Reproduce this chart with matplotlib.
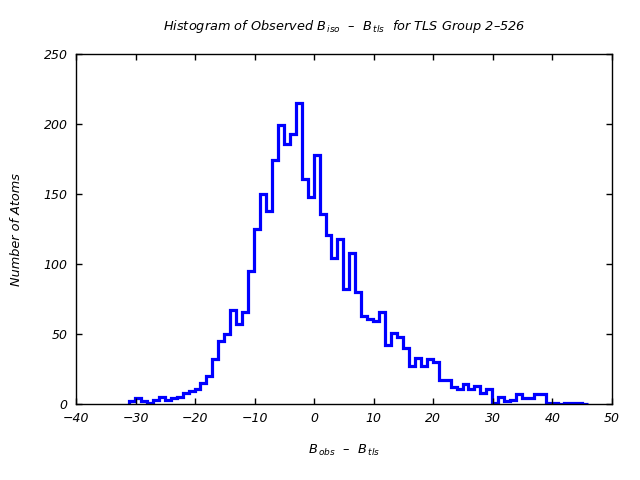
import numpy as np
import matplotlib
matplotlib.use("Agg")
import matplotlib.pyplot as plt

# Histogram counts per bin
counts = [2, 4, 2, 1, 3, 5, 3, 4, 5, 8, 9, 11, 15, 20, 32, 45, 50,
          67, 57, 66, 95, 125, 150, 138, 174, 199, 186, 193, 215, 161, 148, 178, 136, 121,
          104, 118, 82, 108, 80, 63, 61, 59, 66, 42, 51, 48, 40, 27, 33, 27,
          32, 30, 17, 17, 12, 11, 14, 11, 13, 8, 11, 1, 5, 2, 3, 7, 4, 4, 7, 7,
          1, 1, 0, 1, 1, 1, 0]
bin_start = -31.1
bin_width = 1.0
edges = bin_start + bin_width * np.arange(len(counts) + 1)

x_ticks = [-40, -30, -20, -10, 0, 10, 20, 30, 40, 50]
y_ticks = [0, 50, 100, 150, 200, 250]

plt.rcParams['font.family'] = ['DejaVu Sans']
plt.rcParams['font.style'] = 'italic'
plt.rcParams['mathtext.fontset'] = 'custom'
plt.rcParams['mathtext.it'] = 'DejaVu Sans:italic'
plt.rcParams['mathtext.rm'] = 'DejaVu Sans:italic'

fig = plt.figure(figsize=(6.4, 4.8), dpi=100)
ax = fig.add_axes([76/640, 1-404/480, (612-76)/640, (404-54)/480])

ax.stairs(counts, edges, baseline=0, color='#0000ff', linewidth=2.3)

ax.set_xlim(-40, 50)
ax.set_ylim(0, 250)
ax.set_xticks(x_ticks)
ax.set_yticks(y_ticks)
ax.tick_params(direction='in', length=4, width=1, top=True, right=True,
               labelsize=9, pad=6, colors='black')
for lab in ax.get_xticklabels() + ax.get_yticklabels():
    lab.set_fontstyle('italic')
for s in ax.spines.values():
    s.set_linewidth(1.0)

ax.set_title(r"Histogram of Observed $B_{\,iso}$  –  $B_{\,tls}$  for TLS Group 2–526",
             fontsize=9.3, style='italic', pad=17)
ax.set_xlabel(r"$B_{\,obs}$  –  $B_{\,tls}$", fontsize=9.3, style='italic', labelpad=13)
ax.set_ylabel("Number of Atoms", fontsize=9.3, style='italic', labelpad=15)

fig.savefig("out.png", dpi=100)
